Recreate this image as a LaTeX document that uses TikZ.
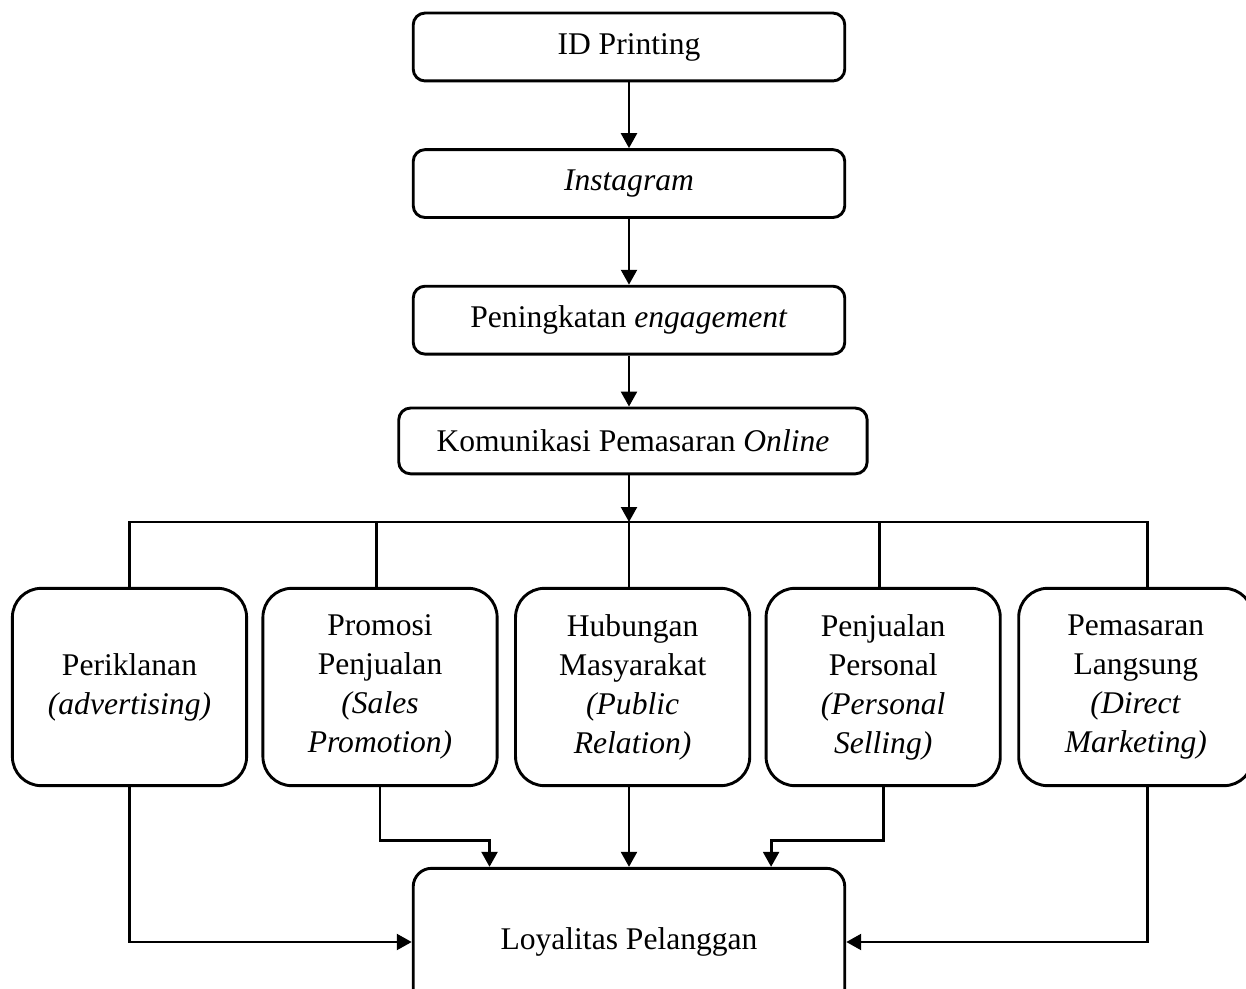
\documentclass[tikz,border=0pt]{standalone}
\usepackage{fontspec}
\setmainfont{Liberation Serif}
\usetikzlibrary{arrows.meta,positioning}

\begin{document}
\begin{tikzpicture}[
 x=0.38pt, y=-0.38pt,
 line width=1.1pt,
 every node/.style={font=\fontsize{12}{14.8}\selectfont},
 topbox/.style={draw,rounded corners=4.5pt,align=center,minimum width=164pt,minimum height=25.8pt,inner sep=2pt},
 dimbox/.style={draw,rounded corners=11pt,align=center,minimum width=89pt,minimum height=75pt,inner sep=2pt},
 endbox/.style={draw,rounded corners=7pt,align=center,minimum width=164pt,minimum height=56pt},
 arr/.style={-{Triangle[length=5.7pt,width=6pt]}}
]
\useasboundingbox (0,0) rectangle (1246,989);
\clip (0,0) rectangle (1246,989);
\node[topbox] (idp) at (629,47) {ID Printing};
\node[topbox,below=25pt of idp] (ig) {\textit{Instagram}};
\node[topbox,below=25pt of ig] (eng) {Peningkatan \textit{engagement}};
\node[topbox,minimum width=178pt,minimum height=25pt,below=19.4pt of eng,xshift=1.5pt] (kom) {Komunikasi Pemasaran \textit{Online}};
\coordinate (bus) at (629,522);
\node[dimbox] (iklan) at (129.5,687) {Periklanan\\\textit{(advertising)}};
\node[dimbox,right=5.1pt of iklan] (promo) {Promosi\\Penjualan\\\textit{(Sales}\\\textit{Promotion)}};
\node[dimbox,right=5.9pt of promo] (humas) {Hubungan\\Masyarakat\\\textit{(Public}\\\textit{Relation)}};
\node[dimbox,right=5.1pt of humas] (perso) {Penjualan\\Personal\\\textit{(Personal}\\\textit{Selling)}};
\node[dimbox,right=5.9pt of perso] (langs) {Pemasaran\\Langsung\\\textit{(Direct}\\\textit{Marketing)}};
\node[endbox] (loyal) at (629,942) {Loyalitas Pelanggan};
\draw[arr] (idp) -- (ig);
\draw[arr] (ig) -- (eng);
\draw[arr] (eng) -- (eng |- kom.north);
\draw[arr] (bus |- kom.south) -- (bus);
\draw (iklan.north) |- (bus) -| ([xshift=4.5pt]langs.north);
\draw (bus) -- (bus |- humas.north);
\draw ([xshift=-1.5pt]promo.north) -- ([xshift=-1.5pt]promo.north |- bus);
\draw ([xshift=-1.3pt]perso.north) -- ([xshift=-1.3pt]perso.north |- bus);
\draw[arr] (iklan) |- (loyal);
\draw[arr] (promo) |- ([xshift=-53pt,yshift=10pt]loyal.north) -- ([xshift=-53pt]loyal.north);
\draw[arr] (bus |- humas.south) -- (loyal);
\draw[arr] (perso) |- ([xshift=54pt,yshift=10pt]loyal.north) -- ([xshift=54pt]loyal.north);
\draw[arr] ([xshift=4.5pt]langs.south) |- (loyal.east);
\end{tikzpicture}
\end{document}
